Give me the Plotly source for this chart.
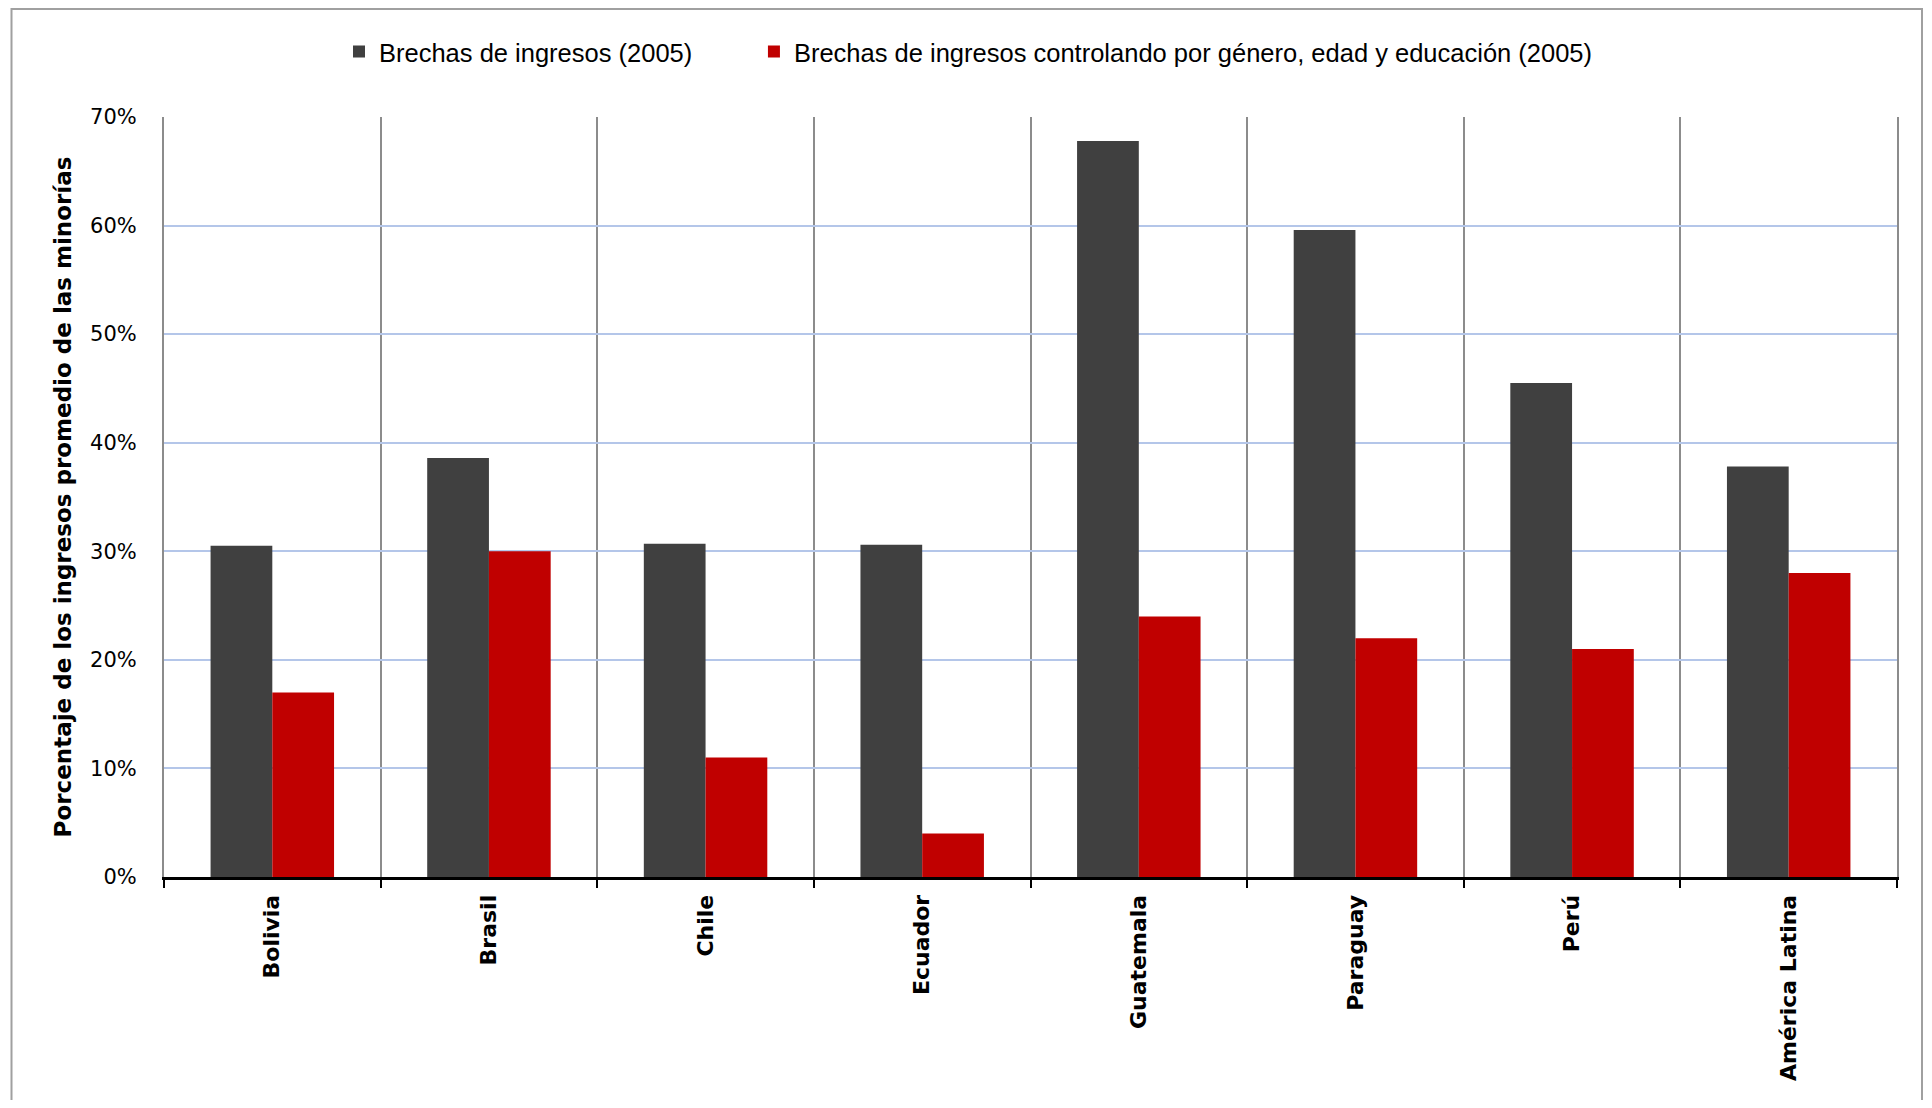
import plotly.graph_objects as go

paises = ["Bolivia", "Brasil", "Chile", "Ecuador", "Guatemala",
          "Paraguay", "Perú", "América Latina"]
brecha = [30.5, 38.6, 30.7, 30.6, 67.8, 59.6, 45.5, 37.8]
brecha_ctrl = [17.0, 30.0, 11.0, 4.0, 24.0, 22.0, 21.0, 28.0]
y_ticks = [0, 10, 20, 30, 40, 50, 60, 70]
y_labels = [f"{v}%" for v in y_ticks]

# the page body adds an 8px margin on every side, so shrink the figure
OFF = 8
W, H = 1932 - 2 * OFF, 1108 - 2 * OFF
L, R, T, B = 164 - OFF, 35 - OFF, 117 - OFF, 231 - OFF
pw, ph = W - L - R, H - T - B
x0_pg, y0_pg = 164, 877  # plot origin in page pixels

nbsp = "\u00a0" * 8

fig = go.Figure()
fig.add_trace(go.Bar(x=paises, y=brecha, name="Brechas de ingresos (2005)" + nbsp,
                     marker=dict(color="#404040", line=dict(width=0))))
fig.add_trace(go.Bar(x=paises, y=brecha_ctrl,
                     name="Brechas de ingresos controlando por género, edad y educación (2005)",
                     marker=dict(color="#c00000", line=dict(width=0))))

fig.update_layout(
    width=W, height=H,
    margin=dict(l=L, r=R, t=T, b=B),
    paper_bgcolor="white", plot_bgcolor="white",
    barmode="group", bargap=0.43, bargroupgap=0,
    font=dict(family="Liberation Sans", color="black"),
    legend=dict(orientation="h", x=(339 - x0_pg) / pw, xanchor="left",
                y=(y0_pg - 52) / ph, yanchor="middle",
                font=dict(family="Liberation Sans", size=25.5),
                bgcolor="rgba(0,0,0,0)"),
    shapes=[dict(type="rect", xref="paper", yref="paper",
                 x0=(11.5 - x0_pg) / pw, x1=(1922 - x0_pg) / pw,
                 y0=-1.0, y1=(y0_pg - 9) / ph,
                 line=dict(color="#a0a0a0", width=2), layer="below")],
)

fig.update_xaxes(
    tickson="boundaries", showgrid=True, gridcolor="#8c8c8c", gridwidth=2,
    ticks="outside", ticklen=8, tickwidth=2, tickcolor="black",
    showline=True, linecolor="black", linewidth=3,
    tickangle=-90, ticklabelstandoff=6,
    tickfont=dict(family="DejaVu Sans", size=22, color="black", weight="bold"),
    range=[-0.5, 7.5],
)
fig.update_yaxes(
    range=[0, 70], tickmode="array", tickvals=y_ticks, ticktext=y_labels,
    showgrid=True, gridcolor="#b4c6e9", gridwidth=2,
    showline=True, linecolor="#8c8c8c", linewidth=2, mirror=True,
    zeroline=False, ticks="", ticklabelstandoff=21,
    tickfont=dict(family="DejaVu Sans", size=21, color="black"),
    title=dict(text="Porcentaje de los ingresos promedio de las minorías",
               standoff=12,
               font=dict(family="DejaVu Sans", size=23, color="black", weight="bold")),
)

fig.write_html("out.html")
